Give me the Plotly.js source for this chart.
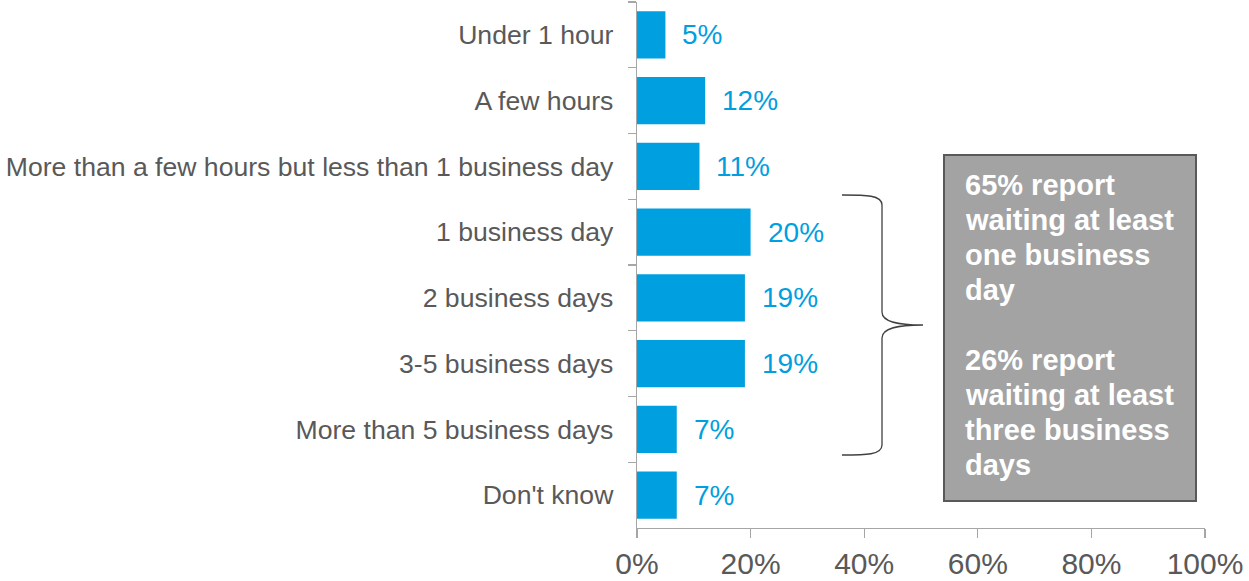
<!DOCTYPE html>
<html>
<head>
<meta charset="utf-8">
<script src="https://cdn.plot.ly/plotly-3.0.1.min.js"></script>
<style>html,body{margin:0;padding:0;background:#fff}#chart{width:1249px;height:581px}</style>
</head>
<body>
<div id="chart"></div>
<script>
const categories = [
  "Under 1 hour",
  "A few hours",
  "More than a few hours but less than 1 business day",
  "1 business day",
  "2 business days",
  "3-5 business days",
  "More than 5 business days",
  "Don't know"
];
const values = [5, 12, 11, 20, 19, 19, 7, 7];
const xTickVals = [0, 20, 40, 60, 80, 100];
const xTickText = ["0%", "20%", "40%", "60%", "80%", "100%"];
const boxLines = [
  "65% report",
  "waiting at least",
  "one business",
  "day",
  "",
  "26% report",
  "waiting at least",
  "three business",
  "days"
];

const FONT = "Arial, 'Liberation Sans', sans-serif";
const BLUE = "#009FDF";
const GRAY_TEXT = "#595959";
const AXIS = "#A6A6A6";

const trace = {
  type: "bar",
  orientation: "h",
  x: values,
  y: categories,
  marker: {color: BLUE},
  hoverinfo: "skip"
};

const annotations = values.map((v, i) => ({
  x: v, y: categories[i], xref: "x", yref: "y",
  text: v + "%", showarrow: false, xanchor: "left", yanchor: "middle",
  xshift: 15, font: {family: FONT, size: 28, color: BLUE}
}));

// Box text lines (paper coords)
const plotTop = 2, plotBottom = 528, plotH = plotBottom - plotTop;
const firstLineY = 185, lineStep = 35;
boxLines.forEach((t, i) => {
  if (!t) return;
  const py = firstLineY + i * lineStep;
  annotations.push({
    x: (963 - 637) / 568, y: (plotBottom - py) / plotH, xref: "paper", yref: "paper",
    text: "<b>" + t + "</b>", showarrow: false, xanchor: "left", yanchor: "middle",
    font: {family: FONT, size: 29, color: "#FFFFFF"}
  });
});

function px(x) { return (x - 637) / 568; }
function py(y) { return (plotBottom - y) / plotH; }

const bracePath = [
  "M", px(842), py(195),
  "C", px(866), py(195), px(882), py(195), px(882), py(205),
  "L", px(882), py(312),
  "C", px(882), py(322), px(898), py(325), px(923), py(325),
  "C", px(898), py(325), px(882), py(328), px(882), py(338),
  "L", px(882), py(445),
  "C", px(882), py(455), px(866), py(455), px(842), py(455)
].join(" ");

const layout = {
  width: 1249, height: 581,
  margin: {l: 637, r: 44, t: 2, b: 53},
  paper_bgcolor: "#fff", plot_bgcolor: "#fff",
  showlegend: false,
  bargap: 0.285,
  font: {family: FONT, color: GRAY_TEXT},
  xaxis: {
    range: [0, 100], tickvals: xTickVals, ticktext: xTickText,
    showgrid: false, zeroline: false, showline: true, linecolor: AXIS, linewidth: 1.3,
    ticks: "outside", ticklen: 9, tickcolor: AXIS, tickwidth: 1.3,
    tickfont: {family: FONT, size: 30, color: GRAY_TEXT},
    ticklabelstandoff: 0, fixedrange: true
  },
  yaxis: {
    type: "category", autorange: "reversed",
    showgrid: false, zeroline: false, showline: true, linecolor: AXIS, linewidth: 1.3,
    ticks: "outside", ticklen: 8, tickcolor: AXIS, tickwidth: 1.3, tickson: "boundaries",
    tickfont: {family: FONT, size: 26.6, color: GRAY_TEXT},
    ticklabelstandoff: 17, fixedrange: true
  },
  shapes: [
    {type: "path", xref: "paper", yref: "paper", path: bracePath,
     line: {color: "#404040", width: 1.3}},
    {type: "rect", xref: "paper", yref: "paper",
     x0: px(944), x1: px(1196), y0: py(501), y1: py(155),
     fillcolor: "#A3A3A4", line: {color: "#595959", width: 2}, layer: "below"}
  ],
  annotations: annotations
};

Plotly.newPlot("chart", [trace], layout, {staticPlot: true, displayModeBar: false});
</script>
</body>
</html>
